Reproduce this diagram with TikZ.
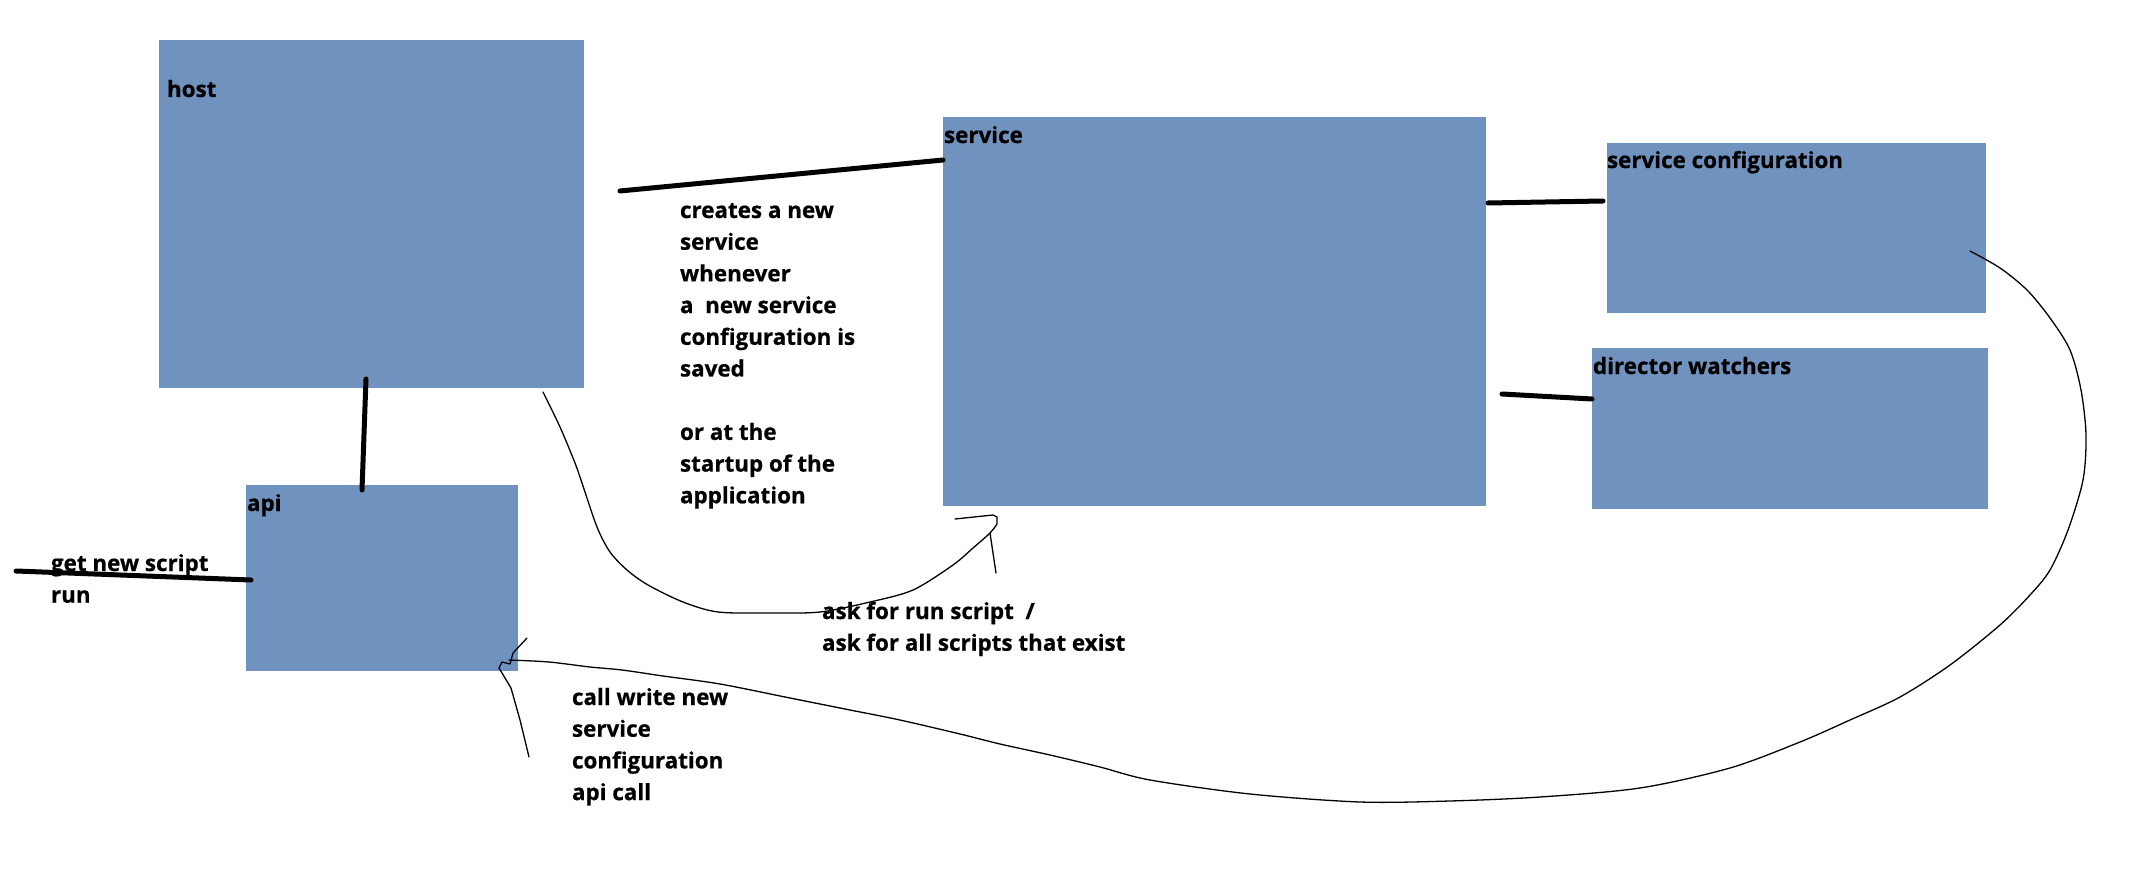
\documentclass[tikz,border=0pt]{standalone}
\usepackage{fontspec}
\setmainfont{Open Sans}[BoldFeatures={FakeBold=0.6}]
\definecolor{boxblue}{RGB}{112,146,190}
\newcommand{\rows}[1]{\begin{tabular}[t]{@{}l@{}}#1\end{tabular}}
\begin{document}
\begin{tikzpicture}[x=1pt,y=-1pt,
  box/.style={fill=boxblue, draw=none, inner sep=0pt, outer sep=0pt, anchor=north west},
  lbl/.style={anchor=base west, inner sep=0pt, outer sep=0pt, text=black,
              font=\bfseries\fontsize{22.4}{31.7}\selectfont},
  conn/.style={line width=5pt, line cap=round},
  sketch/.style={line width=1.3pt, line join=round, line cap=round}]
\useasboundingbox (0,0) rectangle (2136,890);
\fill[white] (0,0) rectangle (2136,890);

% boxes
\node[box, minimum width=425pt, minimum height=348pt] (host) at (159,40) {};
\node[box, minimum width=272pt, minimum height=186pt] (api) at (246,485) {};
\node[box, minimum width=543pt, minimum height=389pt] (service) at (943,117) {};
\node[box, minimum width=379pt, minimum height=170pt] (sconf) at (1607,143) {};
\node[box, minimum width=396pt, minimum height=161pt] (dwatch) at (1592,348) {};

% box labels
\node[lbl] (hostlbl) at (167,97) {host};
\node[lbl] (apilbl) at (247,511) {api};
\node[lbl] (servicelbl) at (944,143) {service};
\node[lbl] (sconflbl) at (1607,168) {service configuration};
\node[lbl] (dwatchlbl) at (1593,374) {director watchers};

% free texts
\node[lbl] (getlbl) at (51,571) {\rows{get new script\\run}};
\node[lbl] (createslbl) at (680,218) {\rows{creates a new\\service\\whenever\\a\ \ new service\\configuration is\\saved\\ \\or at the\\startup of the\\application}};
\node[lbl] (asklbl) at (822,619) {\rows{ask for run script\ \ /\\ask for all scripts that exist}};
\node[lbl] (calllbl) at (572,705) {\rows{call write new\\service\\configuration\\api call}};

% thick connectors
\coordinate (hsA) at (620,191);
\draw[conn] (hsA) -- ([yshift=-43pt]service.north west);
\coordinate (haA) at (366,379);
\draw[conn] (haA) -- ([xshift=116pt,yshift=-5pt]api.north west);
\coordinate (inA) at (16,571);
\draw[conn] (inA) -- ([xshift=5pt,yshift=-95pt]api.north west);
\coordinate (scA) at (1488,203);
\draw[conn] (scA) -- ([xshift=-4pt,yshift=-58pt]sconf.north west);
\coordinate (dwA) at (1502,394);
\draw[conn] (dwA) -- ([yshift=-51pt]dwatch.north west);

% hand drawn curve host -> service
\coordinate (c1S) at (543,392);
\coordinate (c1E) at (993,515);
\draw[sketch] plot[smooth, tension=0.5] coordinates {(c1S) (560,427) (575,463) (582,483) (597,527) (610,552) (627,570) (648,585) (683,602) (718,612) (770,613) (820,612) (870,602) (913,590) (953,565) (973,548) (990,533) (997,524)}
  -- (997,517) -- (c1E) -- (955,519);
\coordinate (t1) at (996,573);
\draw[sketch] (990,533) -- (t1);

% hand drawn curve service configuration -> api
\coordinate (c2S) at (1970,251);
\coordinate (c2E) at (509,660);
\draw[sketch] plot[smooth, tension=0.5] coordinates {(c2S) (2000,268) (2027,290) (2050,318) (2070,350) (2081,390) (2086,435) (2083,480) (2068,530) (2050,570) (2030,595) (2000,625) (1950,665) (1900,697) (1850,720) (1800,742) (1730,768) (1640,788) (1540,797) (1450,801) (1360,802) (1250,794) (1150,780) (1100,767) (1050,755) (1000,744) (960,734) (900,720) (850,710) (790,698) (720,684) (663,676) (622,670) (590,667) (549,662) (c2E)};
\coordinate (t2) at (527,638);
\coordinate (t3) at (529,757);
\draw[sketch] (t2) -- (513,653) -- (510,664) -- (502,662) -- (499,668) -- (511,688) -- (520,720) -- (t3);
\end{tikzpicture}
\end{document}
